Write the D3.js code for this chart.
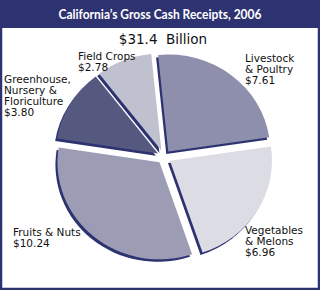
<!DOCTYPE html>
<meta charset="utf-8">
<script src="https://d3js.org/d3.v7.min.js"></script>
<style>
  body { margin: 0; background: #fff; }
</style>
<div id="chart"></div>
<script>
// data (billions of dollars)
var categories = ["Livestock & Poultry", "Vegetables & Melons", "Fruits & Nuts",
                  "Greenhouse, Nursery & Floriculture", "Field Crops"];
var labelLines = [["Livestock", "& Poultry"], ["Vegetables", "& Melons"], ["Fruits & Nuts"],
                  ["Greenhouse,", "Nursery &", "Floriculture"], ["Field Crops"]];
var values = [7.61, 6.96, 10.24, 3.80, 2.78];
var totalLabel = "$31.4  Billion";
var title = "California\u2019s Gross Cash Receipts, 2006";

// layout
var W = 320, H = 290;
var navy = "#2d3371";
var sliceColors = ["#8e8fac", "#dcdce4", "#9c9db4", "#56597f", "#c0c1cf"];
var labelPos = [[245, 62], [245, 234], [13, 236], [4, 83], [78, 60]];
var cx = 164, cy = 157, r = 100, sx = 1.02, sy = 0.97, explode = 7;

var svg = d3.select("#chart").append("svg")
  .attr("width", W).attr("height", H);

// frame + title bar
svg.append("rect").attr("x", 0).attr("y", 0).attr("width", W).attr("height", 28).attr("fill", navy);
svg.append("rect").attr("x", 1).attr("y", 1).attr("width", W - 2).attr("height", H - 2)
  .attr("fill", "none").attr("stroke", navy).attr("stroke-width", 2.5);
svg.append("text")
  .attr("x", W / 2).attr("y", 19)
  .attr("text-anchor", "middle")
  .attr("fill", "#fff")
  .style("font-family", "Lato, 'Open Sans', sans-serif")
  .style("font-weight", "bold")
  .style("font-size", "13px")
  .attr("textLength", 203).attr("lengthAdjust", "spacingAndGlyphs")
  .text(title);

svg.append("text")
  .attr("x", 163).attr("y", 44)
  .attr("text-anchor", "middle")
  .style("font-family", "'DejaVu Sans', Verdana, sans-serif")
  .style("font-size", "13.5px")
  .attr("fill", "#111")
  .attr("xml:space", "preserve")
  .text(totalLabel);

var pie = d3.pie().sort(null).startAngle(-0.1).endAngle(2 * Math.PI - 0.1);
var arc = d3.arc().innerRadius(0).outerRadius(r);
var arcs = pie(values);

var slices = svg.selectAll("g.slice")
  .data(arcs)
  .enter().append("g")
  .attr("class", "slice")
  .attr("transform", function(d) {
    var a = (d.startAngle + d.endAngle) / 2;
    return "translate(" + (cx + Math.sin(a) * explode) + "," + (cy - Math.cos(a) * explode) + ") scale(" + sx + "," + sy + ")";
  });

// dark edge (slice thickness)
slices.append("path")
  .attr("d", arc)
  .attr("transform", "translate(-2,2.5)")
  .attr("fill", navy);

slices.append("path")
  .attr("d", arc)
  .attr("fill", function(d, i) { return sliceColors[i]; });

// labels
var labels = svg.selectAll("text.lbl")
  .data(arcs)
  .enter().append("text")
  .attr("class", "lbl")
  .style("font-family", "'DejaVu Sans', Verdana, sans-serif")
  .style("font-size", "10.5px")
  .attr("fill", "#111");

labels.each(function(d, i) {
  var t = d3.select(this);
  var lines = labelLines[i].concat(["$" + values[i].toFixed(2)]);
  lines.forEach(function(s, j) {
    t.append("tspan")
      .attr("x", labelPos[i][0])
      .attr("y", labelPos[i][1] + j * 11)
      .text(s);
  });
});
</script>
